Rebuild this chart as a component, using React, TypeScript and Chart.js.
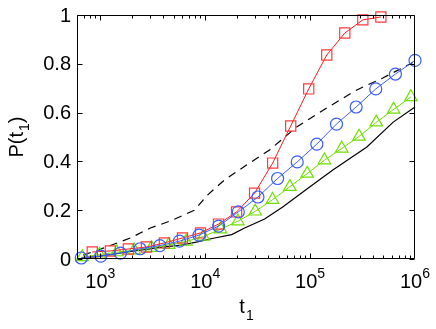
import React, { useEffect, useRef } from "react";
import { Chart, registerables } from "chart.js";

Chart.register(...registerables);

// ---- data ----
const redT = [839, 1247, 1853, 2752, 4089, 6075, 9025, 13410, 19920, 29590, 43960, 65310, 97030, 144200, 214200, 318200, 472700];
const redP = [0.029, 0.033, 0.041, 0.049, 0.066, 0.086, 0.107, 0.143, 0.193, 0.27, 0.393, 0.545, 0.697, 0.836, 0.926, 0.98, 0.992];

const blueT = [658, 1012, 1557, 2397, 3689, 5677, 8738, 13440, 20690, 31840, 49000, 75400, 116000, 178500, 274800, 422800, 650600, 1000000];
const blueP = [0.004, 0.012, 0.024, 0.042, 0.055, 0.073, 0.098, 0.135, 0.193, 0.254, 0.33, 0.398, 0.471, 0.553, 0.623, 0.697, 0.758, 0.814];

const greenT = [673, 984, 1439, 2104, 3076, 4496, 6567, 9600, 14030, 20510, 29990, 43850, 64120, 93750, 137100, 200400, 292700, 427600, 625300, 914100];
const greenP = [0.008, 0.018, 0.028, 0.036, 0.046, 0.058, 0.072, 0.092, 0.122, 0.155, 0.195, 0.243, 0.296, 0.35, 0.405, 0.453, 0.502, 0.56, 0.613, 0.664];

const blackT = [658, 1000, 1893, 4085, 5947, 8427, 12280, 17900, 23760, 36850, 54820, 99000, 164700, 347800, 619600, 1000000];
const blackP = [0.004, 0.012, 0.03, 0.05, 0.057, 0.07, 0.086, 0.1, 0.127, 0.164, 0.213, 0.295, 0.365, 0.459, 0.561, 0.623];

const dashT = [688, 1141, 1934, 3005, 4666, 7907, 10520, 15290, 24780, 41100, 74430, 144100, 278700, 493500, 950000];
const dashP = [0.016, 0.049, 0.086, 0.127, 0.156, 0.2, 0.262, 0.324, 0.385, 0.447, 0.541, 0.619, 0.693, 0.742, 0.805];

const xMin = 600;
const xMax = 1000000;
const yTickValues = [0, 0.2, 0.4, 0.6, 0.8, 1];
const yTickLabels = ["0", "0.2", "0.4", "0.6", "0.8", "1"];
const xTickExponents = ["3", "4", "5", "6"];
const xTitle = "t";
const yTitle = "P(t";
const subscript = "1";

const FONT = "'Liberation Sans', Arial, Helvetica, sans-serif";

const pts = (t: number[], p: number[]) => t.map((v, i) => ({ x: v, y: p[i] }));

const axesPlugin = {
  id: "matlabAxes",
  afterDraw(chart: any) {
    const { ctx, chartArea: a, scales } = chart;
    const xs = scales.x;
    const ys = scales.y;
    ctx.save();
    ctx.strokeStyle = "#000";
    ctx.lineWidth = 1;
    const L = Math.round(a.left) + 0.5;
    const R = Math.round(a.right) - 0.5;
    const T = Math.round(a.top) + 0.5;
    const B = Math.round(a.bottom) - 0.5;
    ctx.beginPath();
    ctx.rect(L, T, R - L, B - T);
    ctx.stroke();

    // y ticks
    ctx.beginPath();
    yTickValues.forEach((v) => {
      const py = Math.round(ys.getPixelForValue(v)) + 0.5;
      ctx.moveTo(L, py);
      ctx.lineTo(L + 5, py);
      ctx.moveTo(R, py);
      ctx.lineTo(R - 5, py);
    });
    // x ticks (log)
    for (let e = 2; e <= 6; e++) {
      for (let m = 1; m <= 9; m++) {
        const v = m * Math.pow(10, e);
        if (v < xMin || v > xMax) continue;
        const len = m === 1 ? 5 : 3;
        let px = Math.round(xs.getPixelForValue(v)) + 0.5;
        if (px > R) px = R;
        ctx.moveTo(px, B);
        ctx.lineTo(px, B - len);
        ctx.moveTo(px, T);
        ctx.lineTo(px, T + len);
      }
    }
    ctx.stroke();

    ctx.fillStyle = "#000";
    // y tick labels
    ctx.font = `20px ${FONT}`;
    ctx.textAlign = "right";
    ctx.textBaseline = "middle";
    yTickValues.forEach((v, i) => {
      ctx.fillText(yTickLabels[i], a.left - 6, ys.getPixelForValue(v) + 1);
    });

    // x tick labels 10^e
    ctx.textAlign = "left";
    ctx.textBaseline = "alphabetic";
    xTickExponents.forEach((ex) => {
      const v = Math.pow(10, Number(ex));
      const px = xs.getPixelForValue(v);
      ctx.font = `20px ${FONT}`;
      const w1 = ctx.measureText("10").width;
      ctx.font = `14px ${FONT}`;
      const w2 = ctx.measureText(ex).width;
      const x0 = px - (w1 + w2) / 2;
      ctx.font = `20px ${FONT}`;
      ctx.fillText("10", x0, 288);
      ctx.font = `14px ${FONT}`;
      ctx.fillText(ex, x0 + w1, 278);
    });

    // x title t_1
    ctx.font = `20px ${FONT}`;
    const wt = ctx.measureText(xTitle).width;
    ctx.font = `14px ${FONT}`;
    const ws = ctx.measureText(subscript).width;
    const cx = (a.left + a.right) / 2;
    const tx = cx - (wt + ws) / 2;
    ctx.font = `20px ${FONT}`;
    ctx.fillText(xTitle, tx, 313);
    ctx.font = `14px ${FONT}`;
    ctx.fillText(subscript, tx + wt + 1, 320);

    // y title P(t_1)
    ctx.save();
    const cy = (a.top + a.bottom) / 2;
    ctx.translate(23, cy);
    ctx.rotate(-Math.PI / 2);
    ctx.font = `20px ${FONT}`;
    const wa = ctx.measureText(yTitle).width;
    const wc = ctx.measureText(")").width;
    ctx.font = `14px ${FONT}`;
    const wb = ctx.measureText(subscript).width;
    const total = wa + wb + wc + 1;
    let sx = -total / 2;
    ctx.font = `20px ${FONT}`;
    ctx.fillText(yTitle, sx, 0);
    sx += wa + 1;
    ctx.font = `14px ${FONT}`;
    ctx.fillText(subscript, sx, 6);
    sx += wb;
    ctx.font = `20px ${FONT}`;
    ctx.fillText(")", sx, 0);
    ctx.restore();

    ctx.restore();
  },
};

export default function App() {
  const ref = useRef<HTMLCanvasElement | null>(null);
  useEffect(() => {
    if (!ref.current) return;
    const RED = "#ff1a1a";
    const BLUE = "#3a5cff";
    const GREEN = "#6fe000";
    const chart = new Chart(ref.current, {
      type: "line",
      data: {
        datasets: [
          {
            data: pts(blueT, blueP),
            borderColor: BLUE,
            backgroundColor: "rgba(0,0,0,0)",
            borderWidth: 1,
            pointStyle: "circle",
            pointRadius: 6,
            pointBorderWidth: 1.2,
            pointBorderColor: BLUE,
            pointBackgroundColor: "rgba(0,0,0,0)",
            tension: 0,
            clip: false,
          } as any,
          {
            data: pts(redT, redP),
            borderColor: RED,
            backgroundColor: "rgba(0,0,0,0)",
            borderWidth: 1,
            pointStyle: "rect",
            pointRadius: 7.2,
            pointBorderWidth: 1.2,
            pointBorderColor: "#ff3b3b",
            pointBackgroundColor: "rgba(0,0,0,0)",
            tension: 0,
            clip: false,
          } as any,
          {
            data: pts(greenT, greenP),
            borderColor: GREEN,
            backgroundColor: "rgba(0,0,0,0)",
            borderWidth: 1,
            pointStyle: "triangle",
            pointRadius: 7.2,
            pointBorderWidth: 1.2,
            pointBorderColor: GREEN,
            pointBackgroundColor: "rgba(0,0,0,0)",
            tension: 0,
            clip: false,
          } as any,
          {
            data: pts(dashT, dashP),
            borderColor: "#000",
            borderWidth: 1.2,
            borderDash: [8, 6],
            pointRadius: 0,
            tension: 0,
            clip: false,
          } as any,
          {
            data: pts(blackT, blackP),
            borderColor: "#000",
            borderWidth: 1.2,
            pointRadius: 0,
            tension: 0,
            clip: false,
          } as any,
        ],
      },
      options: {
        responsive: false,
        animation: false,
        events: [],
        layout: { padding: { left: 77, top: 15, right: 21, bottom: 70 } },
        plugins: { legend: { display: false }, tooltip: { enabled: false } },
        scales: {
          x: { type: "logarithmic", min: xMin, max: xMax, display: false },
          y: { type: "linear", min: 0, max: 1, display: false },
        },
      },
      plugins: [axesPlugin],
    });
    return () => chart.destroy();
  }, []);
  return (
    <div style={{ position: "absolute", left: 0, top: 0, width: 436, height: 329, background: "#fff" }}>
      <canvas ref={ref} width={436} height={329} style={{ display: "block" }} />
    </div>
  );
}
